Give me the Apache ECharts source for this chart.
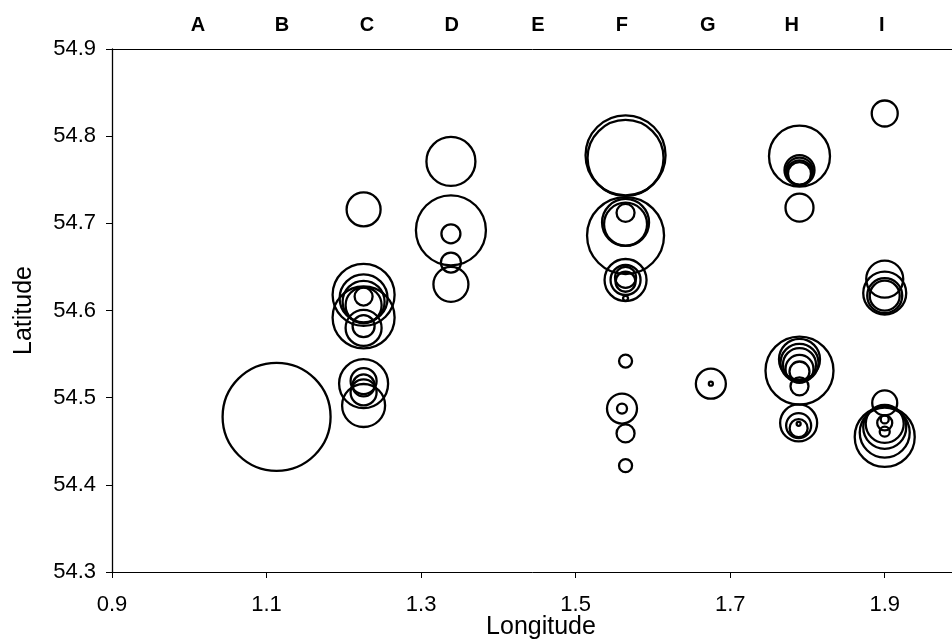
<!DOCTYPE html>
<html>
<head>
<meta charset="utf-8">
<script src="https://cdn.jsdelivr.net/npm/echarts@6/dist/echarts.min.js"></script>
<style>
html,body{margin:0;padding:0;background:#fff;}
#chart{width:952px;height:642px;}
</style>
</head>
<body>
<div id="chart"></div>
<script>
// Station columns (top labels) and their longitudes
const stationLetters = ['A','B','C','D','E','F','G','H','I'];
const stationLon = [1.0113, 1.1199, 1.2299, 1.3398, 1.4511, 1.5598, 1.6710, 1.7797, 1.8961];

// Axis tick labels
const xTicks = [0.9, 1.1, 1.3, 1.5, 1.7, 1.9];
const yTicks = [54.3, 54.4, 54.5, 54.6, 54.7, 54.8, 54.9];

// Bubble data: longitude, latitude, bubble size
const lon = [
  1.113,
  1.2256, 1.2256, 1.2256, 1.2256, 1.2256, 1.2256, 1.2256, 1.2256, 1.2256, 1.2256, 1.2256, 1.2256, 1.2256, 1.2256,
  1.3386, 1.3386, 1.3386, 1.3386, 1.3386,
  1.5646, 1.5646, 1.5646, 1.5646, 1.5646, 1.5646, 1.5646, 1.5646, 1.5646, 1.5646, 1.5646, 1.5646, 1.5600, 1.5600, 1.5646, 1.5646,
  1.675, 1.675,
  1.7897, 1.7897, 1.7897, 1.7897, 1.7897, 1.7897, 1.7897, 1.7897, 1.7897, 1.7897, 1.7897, 1.7897, 1.7897, 1.7886, 1.7886, 1.7886, 1.7886,
  1.9, 1.9, 1.9, 1.9, 1.9, 1.9, 1.9, 1.9, 1.9, 1.9, 1.9, 1.9, 1.9
];
const lat = [
  54.478,
  54.716, 54.618, 54.592, 54.614, 54.610, 54.606, 54.616, 54.582, 54.580, 54.516, 54.519, 54.514, 54.506, 54.491,
  54.771, 54.692, 54.688, 54.655, 54.630,
  54.778, 54.775, 54.686, 54.701, 54.699, 54.712, 54.635, 54.635, 54.638, 54.633, 54.614, 54.542, 54.4875, 54.4875, 54.459, 54.422,
  54.516, 54.516,
  54.777, 54.761, 54.760, 54.758, 54.757, 54.718, 54.531, 54.544, 54.540, 54.538, 54.533, 54.530, 54.513, 54.471, 54.468, 54.465, 54.470,
  54.826, 54.636, 54.620, 54.617, 54.617, 54.455, 54.460, 54.466, 54.470, 54.494, 54.471, 54.461, 54.475
];
const bubble = [
  110,
  36, 64, 64, 50, 44, 38, 20, 24, 38, 51, 28, 24, 28, 45,
  51, 72, 21, 22, 37,
  82, 78, 79, 49, 45, 20, 44, 32, 23, 22, 7, 15, 32, 12, 20, 15,
  32, 6,
  63, 32, 29, 27, 25, 30, 70, 43, 40, 35, 30, 22, 20, 39, 27, 20, 6,
  28, 39, 45, 37, 32, 62, 52, 45, 40, 27, 17, 12, 10
];

const points = lon.map((x, i) => [x, lat[i], bubble[i]]);

const FONT = '"Liberation Sans", Arial, Helvetica, sans-serif';
const chart = echarts.init(document.getElementById('chart'), null, {renderer: 'canvas'});

chart.setOption({
  animation: false,
  backgroundColor: '#fff',
  grid: {left: 112, top: 49, width: 850, height: 523, show: false, containLabel: false, outerBoundsMode: 'none'},
  xAxis: [
    {
      type: 'value', position: 'bottom', min: 0.9, max: 2.0,
      name: 'Longitude', nameLocation: 'middle', nameGap: 43, nameMoveOverlap: false,
      nameTextStyle: {fontFamily: FONT, fontSize: 25, color: '#000', padding: [0, 0, 0, 8]},
      axisLine: {show: true, lineStyle: {color: '#000', width: 1}},
      axisTick: {show: true, customValues: xTicks, length: 6, lineStyle: {color: '#000'}},
      axisLabel: {customValues: xTicks, formatter: v => Number(v).toFixed(1), fontFamily: FONT, fontSize: 22, color: '#000', margin: 22},
      splitLine: {show: false}
    },
    {
      type: 'value', position: 'top', min: 0.9, max: 2.0,
      axisLine: {show: true, onZero: false, lineStyle: {color: '#000', width: 1}},
      axisTick: {show: false},
      axisLabel: {
        customValues: stationLon,
        formatter: v => {
          let best = 0;
          stationLon.forEach((s, i) => { if (Math.abs(s - v) < Math.abs(stationLon[best] - v)) best = i; });
          return stationLetters[best];
        },
        fontFamily: FONT, fontSize: 20, fontWeight: 'bold', color: '#000', margin: 14
      },
      splitLine: {show: false}
    }
  ],
  yAxis: {
    type: 'value', min: 54.3, max: 54.9, interval: 0.1,
    name: 'Latitude', nameLocation: 'middle', nameGap: 75, nameRotate: 90, nameMoveOverlap: false,
    nameTextStyle: {fontFamily: FONT, fontSize: 25, color: '#000'},
    axisLine: {show: true, lineStyle: {color: '#000', width: 1.3}},
    axisTick: {show: true, length: 6, lineStyle: {color: '#000'}},
    axisLabel: {formatter: v => Number(v).toFixed(1), fontFamily: FONT, fontSize: 22, color: '#000', margin: 16},
    splitLine: {show: false}
  },
  series: [{
    type: 'scatter',
    xAxisIndex: 0,
    data: points,
    symbol: 'circle',
    symbolSize: v => Math.max(v[2] - 2, 3),
    itemStyle: {color: 'rgba(0,0,0,0)', borderColor: '#000', borderWidth: 2.3, opacity: 1},
    emphasis: {disabled: true},
    silent: true
  }]
});
</script>
</body>
</html>
